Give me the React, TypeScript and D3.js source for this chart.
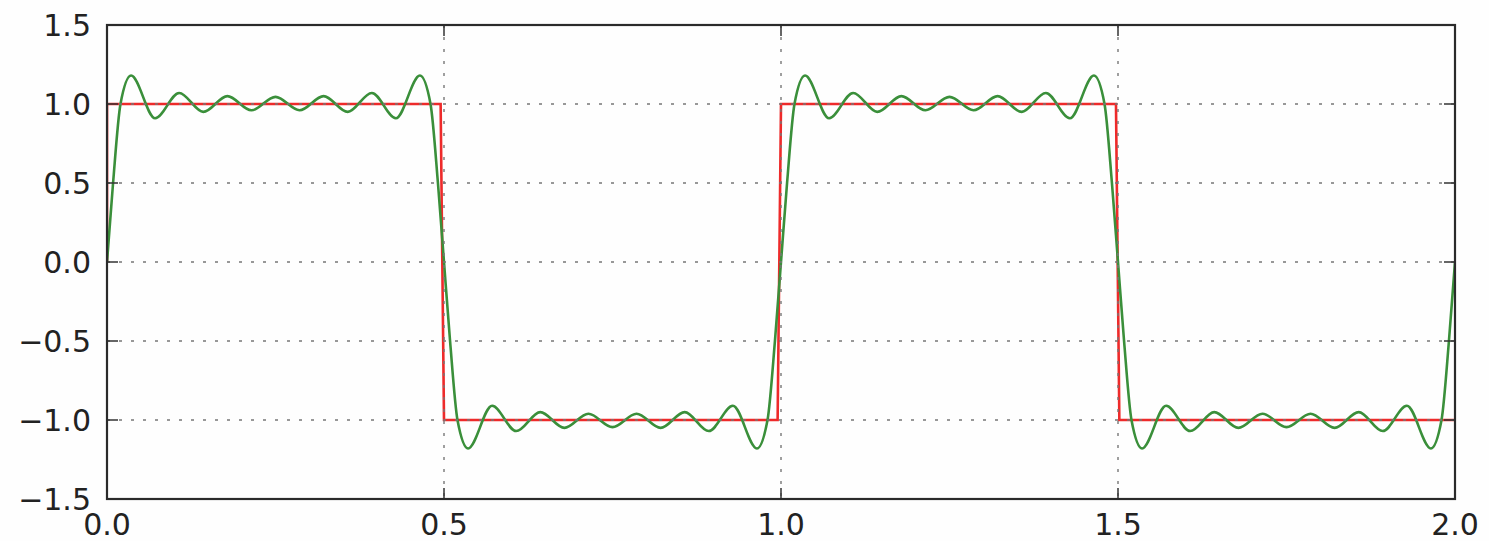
import React from "react";
import * as d3 from "d3";

const xTicks = [0.0, 0.5, 1.0, 1.5, 2.0];
const yTicks = [-1.5, -1.0, -0.5, 0.0, 0.5, 1.0, 1.5];

// red square wave (sampled)
const squareT = [0, 0, 0.495, 0.5, 0.995, 1.0, 1.497, 1.502, 2.0];
const squareV = [0, 1, 1, -1, -1, 1, 1, -1, -1];

// green partial Fourier sum (extrema + key crossings)
const fourierT = [
  0, 0.009, 0.02, 0.0357, 0.0714, 0.1071, 0.1429, 0.1786, 0.2143, 0.25, 0.2857, 0.3214, 0.3571, 0.3929, 0.4286, 0.4643, 0.48, 0.491,
  0.5, 0.509, 0.52, 0.5357, 0.5714, 0.6071, 0.6429, 0.6786, 0.7143, 0.75, 0.7857, 0.8214, 0.8571, 0.8929, 0.9286, 0.9643, 0.98, 0.991,
  1.0, 1.009, 1.02, 1.0357, 1.0714, 1.1071, 1.1429, 1.1786, 1.2143, 1.25, 1.2857, 1.3214, 1.3571, 1.3929, 1.4286, 1.4643, 1.48, 1.491,
  1.5, 1.509, 1.52, 1.5357, 1.5714, 1.6071, 1.6429, 1.6786, 1.7143, 1.75, 1.7857, 1.8214, 1.8571, 1.8929, 1.9286, 1.9643, 1.98, 1.991,
  2.0,
];
const fourierV = [
  0, 0.5, 1.0, 1.18, 0.91, 1.07, 0.95, 1.05, 0.96, 1.045, 0.96, 1.05, 0.95, 1.07, 0.91, 1.18, 1.0, 0.5,
  0, -0.5, -1.0, -1.18, -0.91, -1.07, -0.95, -1.05, -0.96, -1.045, -0.96, -1.05, -0.95, -1.07, -0.91, -1.18, -1.0, -0.5,
  0, 0.5, 1.0, 1.18, 0.91, 1.07, 0.95, 1.05, 0.96, 1.045, 0.96, 1.05, 0.95, 1.07, 0.91, 1.18, 1.0, 0.5,
  0, -0.5, -1.0, -1.18, -0.91, -1.07, -0.95, -1.05, -0.96, -1.045, -0.96, -1.05, -0.95, -1.07, -0.91, -1.18, -1.0, -0.5,
  0,
];

const W = 1489;
const H = 541;
const M = { left: 107, right: 1455, top: 25, bottom: 499 };

const fmt = (v: number) => {
  const s = v.toFixed(1);
  return v < 0 ? "\u2212" + s.slice(1) : s;
};

export default function App() {
  const x = d3.scaleLinear().domain([0, 2]).range([M.left, M.right]);
  const y = d3.scaleLinear().domain([-1.5, 1.5]).range([M.bottom, M.top]);

  const redLine = d3
    .line<number>()
    .x((_, i) => x(squareT[i]))
    .y((d) => y(d))
    .curve(d3.curveLinear)(squareV) as string;

  const greenLine = d3
    .line<number>()
    .x((_, i) => x(fourierT[i]))
    .y((d) => y(d))
    .curve(d3.curveMonotoneX)(fourierV) as string;

  const font = "'DejaVu Sans', sans-serif";
  const tickLen = 11;
  const gridStyle = { stroke: "#777", strokeWidth: 1.4, strokeDasharray: "3 9" };

  return (
    <svg width={W} height={H} style={{ position: "absolute", left: 0, top: 0, background: "#fff" }}>
      <rect x={0} y={0} width={W} height={H} fill="#fefefe" />
      <defs>
        <clipPath id="plotclip">
          <rect x={M.left} y={M.top} width={M.right - M.left} height={M.bottom - M.top} />
        </clipPath>
      </defs>
      <g clipPath="url(#plotclip)">
        <path d={redLine} fill="none" stroke="#ee2a2a" strokeWidth={2.6} strokeLinejoin="miter" />
        <path d={greenLine} fill="none" stroke="#3a8f3a" strokeWidth={2.6} />
      </g>
      {/* grid on top of lines */}
      {xTicks.slice(1, -1).map((t) => (
        <line key={"gx" + t} x1={x(t)} x2={x(t)} y1={M.top} y2={M.bottom} {...gridStyle} />
      ))}
      {yTicks.slice(1, -1).map((t) => (
        <line key={"gy" + t} x1={M.left} x2={M.right} y1={y(t)} y2={y(t)} {...gridStyle} />
      ))}
      {/* ticks on all sides, inward */}
      {xTicks.map((t) => (
        <g key={"tx" + t} stroke="#333" strokeWidth={1.5}>
          <line x1={x(t)} x2={x(t)} y1={M.bottom} y2={M.bottom - tickLen} />
          <line x1={x(t)} x2={x(t)} y1={M.top} y2={M.top + tickLen} />
        </g>
      ))}
      {yTicks.map((t) => (
        <g key={"ty" + t} stroke="#333" strokeWidth={1.5}>
          <line x1={M.left} x2={M.left + tickLen} y1={y(t)} y2={y(t)} />
          <line x1={M.right} x2={M.right - tickLen} y1={y(t)} y2={y(t)} />
        </g>
      ))}
      <rect
        x={M.left}
        y={M.top}
        width={M.right - M.left}
        height={M.bottom - M.top}
        fill="none"
        stroke="#2a2a2a"
        strokeWidth={2.2}
      />
      {yTicks.map((t) => (
        <text
          key={"ly" + t}
          x={91}
          y={y(t)}
          dy="0.36em"
          textAnchor="end"
          fontFamily={font}
          fontSize={30}
          fill="#222"
        >
          {fmt(t)}
        </text>
      ))}
      {xTicks.map((t) => (
        <text
          key={"lx" + t}
          x={x(t)}
          y={535}
          textAnchor="middle"
          fontFamily={font}
          fontSize={30}
          fill="#222"
        >
          {fmt(t)}
        </text>
      ))}
    </svg>
  );
}
